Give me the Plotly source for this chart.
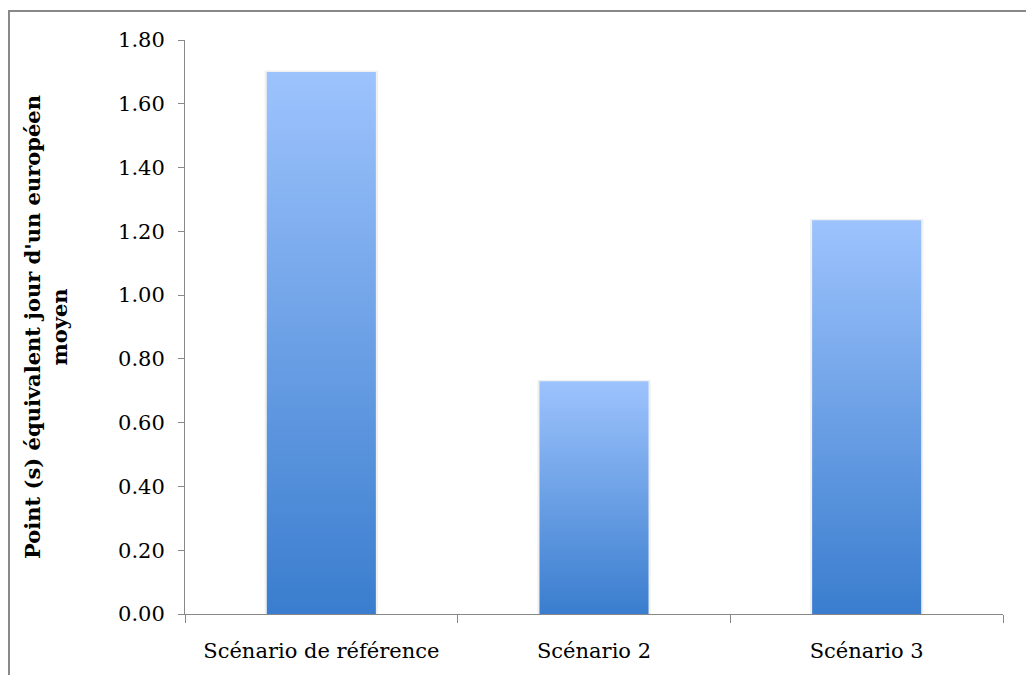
import plotly.graph_objects as go

# Values
scenarios = ["Scénario de référence", "Scénario 2", "Scénario 3"]
points = [1.70, 0.73, 1.235]

bar_w = 0.4
grad = [[0, "#3a7dce"], [1, "#9dc3fd"]]

fig = go.Figure()

for i, (name, v) in enumerate(zip(scenarios, points)):
    # faint shadow behind each bar
    s = bar_w / 2 + 0.008
    fig.add_trace(go.Scatter(
        x=[i - s, i - s, i + s, i + s, i - s], y=[0, v + 0.004, v + 0.004, 0, 0],
        fill="toself", fillcolor="rgba(0,0,0,0.06)", mode="lines",
        line=dict(width=0), hoverinfo="skip", showlegend=False))
    # the bar itself with a vertical gradient
    h = bar_w / 2
    fig.add_trace(go.Scatter(
        x=[i - h, i - h, i + h, i + h, i - h], y=[0, v, v, 0, 0],
        fill="toself", fillgradient=dict(type="vertical", colorscale=grad),
        mode="lines", line=dict(width=0), name=name, showlegend=False))

serif = "DejaVu Serif"

# page body has an 8px margin, so the figure is sized to fit inside the window
fig.update_layout(
    width=1026, height=667,
    margin=dict(l=177, r=31, t=32, b=61),
    paper_bgcolor="white", plot_bgcolor="white",
    font=dict(family=serif, size=21, color="black"),
    xaxis=dict(
        range=[-0.5, 2.5], tickvals=[0, 1, 2], ticktext=scenarios,
        ticks="", showgrid=False, zeroline=False,
        showline=True, linecolor="#888", linewidth=1,
        ticklabelstandoff=18,
        minor=dict(tickvals=[-0.5, 0.5, 1.5, 2.5], ticks="outside",
                   ticklen=8, tickcolor="#888", showgrid=False),
    ),
    yaxis=dict(
        range=[0, 1.8], dtick=0.2, tickformat=".2f",
        ticks="outside", ticklen=6, tickcolor="#888",
        showline=True, linecolor="#888", linewidth=1,
        showgrid=False, zeroline=False, ticklabelstandoff=9,
        title=dict(text="<b>Point (s) équivalent jour d'un européen<br>moyen</b>",
                   font=dict(family=serif, size=21), standoff=44),
        automargin=False,
    ),
    shapes=[dict(type="rect", xref="paper", yref="paper",
                 x0=-0.2152, x1=1.2, y0=-0.3, y1=1.0505,
                 line=dict(color="#888", width=2), layer="below")],
)

fig.write_html("out.html")
